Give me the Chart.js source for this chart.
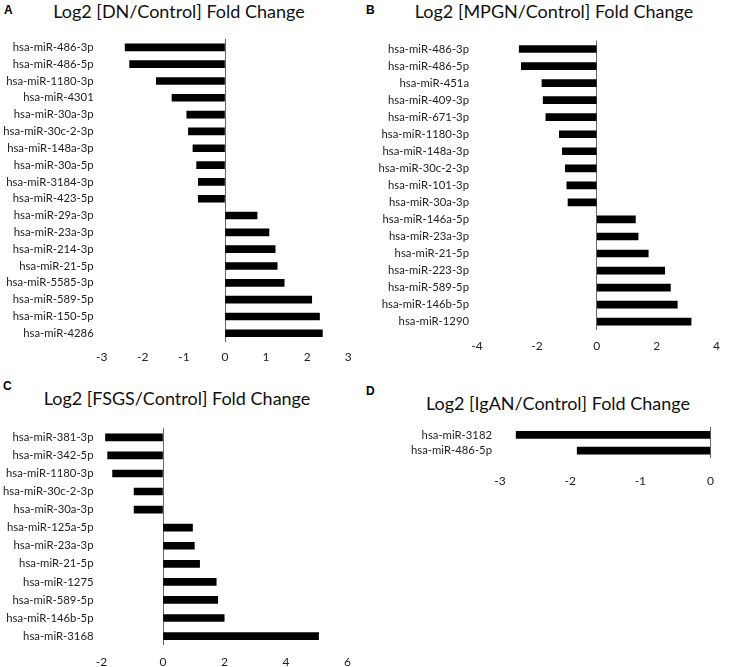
<!DOCTYPE html>
<html>
<head>
<meta charset="utf-8">
<script src="https://cdn.jsdelivr.net/npm/chart.js@4.4.1/dist/chart.umd.min.js"></script>
<style>
    body { margin: 0; background: #fff; }
    #wrap { position: relative; width: 729px; height: 667px; overflow: hidden; font-family: Lato, sans-serif; }
    canvas { position: absolute; }
    .title { position: absolute; font-size: 18px; color: #111; white-space: nowrap; transform: translate(-50%, -50%); }
    .letter { position: absolute; font-family: "Liberation Sans", Arial, sans-serif; font-weight: bold; font-size: 12px; color: #000; }
</style>
</head>
<body>
<div id="wrap">
    <div class="letter" style="left:4px; top:3px;">A</div>
    <div class="title" style="left:179px; top:11px;">Log2 [DN/Control] Fold Change</div>
    <canvas id="chartA" width="364" height="364" style="left:0; top:0;"></canvas>

    <div class="letter" style="left:366px; top:3px;">B</div>
    <div class="title" style="left:554px; top:11px;">Log2 [MPGN/Control] Fold Change</div>
    <canvas id="chartB" width="365" height="364" style="left:364px; top:0;"></canvas>

    <div class="letter" style="left:3px; top:379px;">C</div>
    <div class="title" style="left:177px; top:398px;">Log2 [FSGS/Control] Fold Change</div>
    <canvas id="chartC" width="364" height="303" style="left:0; top:364px;"></canvas>

    <div class="letter" style="left:366px; top:384px;">D</div>
    <div class="title" style="left:558px; top:403px;">Log2 [IgAN/Control] Fold Change</div>
    <canvas id="chartD" width="365" height="303" style="left:364px; top:364px;"></canvas>
</div>

<script>
// ================= DATA =================
const dnLabels = ["hsa-miR-486-3p", "hsa-miR-486-5p", "hsa-miR-1180-3p", "hsa-miR-4301", "hsa-miR-30a-3p",
    "hsa-miR-30c-2-3p", "hsa-miR-148a-3p", "hsa-miR-30a-5p", "hsa-miR-3184-3p", "hsa-miR-423-5p",
    "hsa-miR-29a-3p", "hsa-miR-23a-3p", "hsa-miR-214-3p", "hsa-miR-21-5p", "hsa-miR-5585-3p",
    "hsa-miR-589-5p", "hsa-miR-150-5p", "hsa-miR-4286"];
const dnValues = [-2.43, -2.32, -1.67, -1.29, -0.93, -0.89, -0.78, -0.69, -0.65, -0.65,
    0.78, 1.07, 1.22, 1.27, 1.44, 2.11, 2.30, 2.37];

const mpgnLabels = ["hsa-miR-486-3p", "hsa-miR-486-5p", "hsa-miR-451a", "hsa-miR-409-3p", "hsa-miR-671-3p",
    "hsa-miR-1180-3p", "hsa-miR-148a-3p", "hsa-miR-30c-2-3p", "hsa-miR-101-3p", "hsa-miR-30a-3p",
    "hsa-miR-146a-5p", "hsa-miR-23a-3p", "hsa-miR-21-5p", "hsa-miR-223-3p", "hsa-miR-589-5p",
    "hsa-miR-146b-5p", "hsa-miR-1290"];
const mpgnValues = [-2.59, -2.52, -1.83, -1.79, -1.70, -1.25, -1.15, -1.05, -1.00, -0.96,
    1.29, 1.38, 1.72, 2.27, 2.46, 2.69, 3.15];

const fsgsLabels = ["hsa-miR-381-3p", "hsa-miR-342-5p", "hsa-miR-1180-3p", "hsa-miR-30c-2-3p", "hsa-miR-30a-3p",
    "hsa-miR-125a-5p", "hsa-miR-23a-3p", "hsa-miR-21-5p", "hsa-miR-1275", "hsa-miR-589-5p",
    "hsa-miR-146b-5p", "hsa-miR-3168"];
const fsgsValues = [-1.87, -1.80, -1.64, -0.94, -0.94, 0.96, 1.02, 1.19, 1.73, 1.78, 1.99, 5.06];

const iganLabels = ["hsa-miR-3182", "hsa-miR-486-5p"];
const iganValues = [-2.77, -1.90];

// ================= CHART BUILDER =================
function makeBarChart(id, labels, values, cfg) {
    const canvas = document.getElementById(id);
    return new Chart(canvas, {
        type: "bar",
        data: {
            labels: labels,
            datasets: [{
                data: values,
                backgroundColor: "#000",
                barThickness: 7
            }]
        },
        options: {
            indexAxis: "y",
            responsive: false,
            animation: false,
            layout: {
                padding: { top: cfg.top, right: cfg.right, left: 0, bottom: 0 }
            },
            plugins: {
                legend: { display: false },
                tooltip: { enabled: false }
            },
            scales: {
                x: {
                    min: cfg.min,
                    max: cfg.max,
                    ticks: {
                        stepSize: cfg.step,
                        padding: cfg.tickPad,
                        color: "#222",
                        font: { family: "Lato", size: 12 }
                    },
                    grid: {
                        drawTicks: false,
                        color: (ctx) => (ctx.tick && ctx.tick.value === 0 ? "#666" : "rgba(0,0,0,0)"),
                        lineWidth: 1
                    },
                    border: { display: false },
                    afterFit: (scale) => { scale.height = canvas.height - cfg.bottom; }
                },
                y: {
                    ticks: {
                        autoSkip: false,
                        padding: 8,
                        color: "#222",
                        font: { family: "Lato", size: 11.3 }
                    },
                    grid: { display: false, drawTicks: false },
                    border: { display: false },
                    afterFit: (scale) => { scale.width = cfg.left; }
                }
            }
        }
    });
}

// ================= PAGE LOAD =================
window.onload = function () {
    makeBarChart("chartA", dnLabels, dnValues,
        { min: -3, max: 3, step: 1, left: 101.7, right: 15.7, top: 38.9, bottom: 341.7, tickPad: 8 });
    makeBarChart("chartB", mpgnLabels, mpgnValues,
        { min: -4, max: 4, step: 2, left: 113, right: 4.7, top: 40.5, bottom: 330.2, tickPad: 9 });
    makeBarChart("chartC", fsgsLabels, fsgsValues,
        { min: -2, max: 6, step: 2, left: 101.5, right: 16.5, top: 64.3, bottom: 281.1, tickPad: 10 });
    makeBarChart("chartD", iganLabels, iganValues,
        { min: -3, max: 0, step: 1, left: 136, right: 6.7, top: 63.1, bottom: 94.5, tickPad: 15 });
};
</script>
</body>
</html>
